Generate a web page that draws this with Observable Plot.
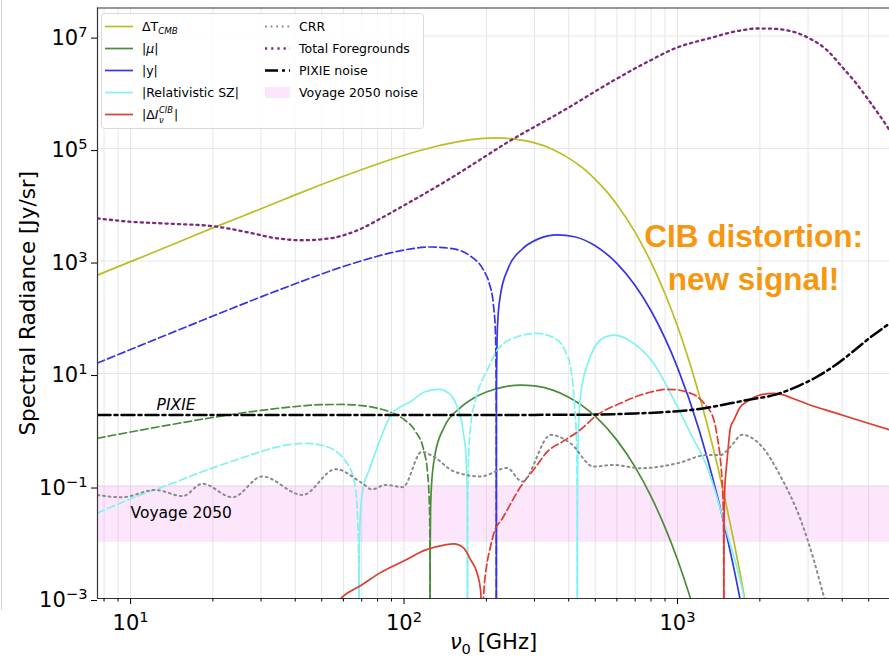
<!DOCTYPE html>
<html>
<head>
<meta charset="utf-8">
<script src="https://cdn.jsdelivr.net/npm/d3@7"></script>
<script src="https://cdn.jsdelivr.net/npm/@observablehq/plot@0.6"></script>
<style>
  html, body { margin: 0; padding: 0; background: #fff; }
  #wrap { position: relative; width: 889px; height: 658px; overflow: hidden; }
  #edge { position: absolute; left: 1px; top: 0; width: 1px; height: 610px; background: #d6d6d6; }
</style>
</head>
<body>
<div id="wrap"><div id="edge"></div></div>
<script>
// Spectra: each pair is [frequency in GHz, log10 of spectral radiance in Jy/sr].
// Dashed segments are where the signal is negative (absolute value shown).

const cmbT = [
  [7.57, 2.75], [10, 2.99], [15, 3.34], [20, 3.59], [30, 3.93], [40, 4.177], [60, 4.507],
  [80, 4.727], [100, 4.882], [130, 5.037], [160, 5.129], [190, 5.176], [217, 5.19],
  [250, 5.174], [280, 5.136], [350, 4.985], [400, 4.83], [450, 4.656], [500, 4.454],
  [550, 4.239], [600, 4.006], [700, 3.51], [800, 2.976], [850, 2.70], [900, 2.418],
  [1000, 1.84], [1100, 1.236], [1200, 0.62], [1300, -0.007], [1400, -0.64],
  [1500, -1.286], [1600, -1.94], [1700, -2.595], [1800, -3.27]
];

const muNeg = [
  [7.57, -0.15], [10, -0.039], [15, 0.116], [20, 0.219], [30, 0.345], [40, 0.413],
  [50, 0.446], [60, 0.45], [70, 0.43], [80, 0.383], [90, 0.306], [100, 0.183],
  [110, -0.026], [118, -0.364], [122, -0.781], [124, -1.48], [124.4, -2.3], [124.48, -3.5]
];
const muPos = [
  [124.48, -3.5], [124.56, -2.27], [125, -1.45], [126, -0.988], [130, -0.425], [140, 0.04],
  [160, 0.386], [180, 0.565], [200, 0.672], [230, 0.759], [267, 0.794], [300, 0.78],
  [350, 0.705], [400, 0.58], [500, 0.241], [600, -0.184], [700, -0.665], [800, -1.186],
  [900, -1.736], [1000, -2.311], [1100, -2.905], [1150, -3.21]
];

const yNeg = [
  [7.57, 1.186], [10, 1.427], [15, 1.776], [20, 2.022], [30, 2.363], [40, 2.596],
  [60, 2.903], [82, 3.10], [100, 3.197], [125, 3.25], [150, 3.22], [175, 3.087],
  [195, 2.844], [205, 2.598], [212, 2.243], [216, 1.69], [217.4, 0.5], [217.5, -3.5]
];
const yPos = [
  [217.5, -3.5], [217.6, 0.5], [219, 1.687], [220, 1.91], [225, 2.388], [240, 2.865],
  [270, 3.21], [310, 3.395], [363, 3.467], [420, 3.432], [500, 3.272], [600, 2.959],
  [700, 2.565], [800, 2.116], [1000, 1.105], [1200, -0.008], [1400, -1.19],
  [1600, -2.42], [1750, -3.37]
];

const rszNegLow = [
  [7.57, -1.48], [11.4, -1.12], [13.4, -1.0], [17.3, -0.79], [21.9, -0.61], [26.3, -0.48],
  [34.8, -0.30], [43.6, -0.24], [53, -0.31], [57, -0.40], [61, -0.55], [65.6, -0.89],
  [67.5, -1.48], [68.3, -2.4], [68.39, -3.4]
];
const rszPosLow = [
  [68.41, -3.4], [68.6, -2.1], [69.5, -1.36], [71, -1.02], [74.5, -0.72], [80, -0.3],
  [90, 0.275], [105.7, 0.5], [120, 0.68], [134, 0.72], [148, 0.62], [156.4, 0.41],
  [161.8, 0.175], [165.5, -0.12], [167.9, -0.36], [169.8, -0.9], [170.4, -1.5], [170.58, -3.4]
];
const rszNegMid = [
  [170.62, -3.4], [170.8, -1.5], [172, -0.6], [175, 0.055], [182.5, 0.53], [193, 0.885],
  [201.5, 1.062], [219, 1.417], [259, 1.654], [307, 1.714], [363, 1.6], [390, 1.38],
  [406, 1.12], [420, 0.45], [427, -0.2], [429.3, -0.9], [429.9, -1.9], [430, -3.4]
];
const rszPosHigh = [
  [430.02, -3.4], [430.2, -1.8], [431, -0.9], [433, -0.2], [438, 0.4], [450, 0.85],
  [468, 1.15], [523, 1.6], [585, 1.684], [692, 1.536], [818, 1.18], [970, 0.53],
  [1114, -0.06], [1282, -0.656], [1518, -1.84], [1746, -2.96], [1800, -3.3]
];

const cibPosLow = [
  [55, -3.15], [58.6, -3.0], [70, -2.76], [82, -2.54], [100, -2.33], [120, -2.135],
  [140, -2.05], [152, -2.03], [165, -2.1], [175, -2.31], [185, -2.55], [190.5, -2.85],
  [192.7, -3.5]
];
const cibNeg = [
  [193.3, -3.5], [196, -2.85], [200, -2.45], [207, -2.08], [213, -1.84], [230, -1.56],
  [267, -1.01], [300, -0.69], [334, -0.39], [380, -0.21], [441, 0.0], [508, 0.263],
  [617, 0.47], [733, 0.618], [850, 0.70], [916, 0.72], [1000, 0.71], [1100, 0.66],
  [1180, 0.59], [1250, 0.47], [1358, 0.174], [1400, -0.15], [1435, -0.53], [1455, -0.9],
  [1465, -1.18], [1472, -1.62], [1475, -2.22], [1475.8, -3.3]
];
const cibPosHigh = [
  [1476.2, -3.3], [1477, -2.3], [1480, -1.6], [1490, -1.0], [1500, -0.8], [1518, -0.53],
  [1563, 0.05], [1606, 0.17], [1698, 0.41], [1797, 0.5], [2010, 0.62], [2249, 0.648],
  [2400, 0.63], [2600, 0.57], [3000, 0.455], [3720, 0.31], [4500, 0.183], [5957, 0.0]
];

const crr = [
  [7.57, -1.16], [9.3, -1.20], [12.3, -1.07], [15.5, -1.18], [18.3, -0.96], [23.6, -1.20],
  [30.3, -0.83], [42.5, -1.16], [56.2, -0.70], [70.3, -0.95], [76.4, -1.06], [85.5, -0.98],
  [99, -1.02], [116, -0.39], [128.5, -0.48], [152, -0.74], [190, -0.83], [238, -0.68],
  [270, -0.92], [344, -0.09], [406, -0.24], [494, -0.655], [585, -0.625], [733, -0.684],
  [1000, -0.595], [1282, -0.45], [1435, -0.45], [1563, -0.30], [1722, -0.09],
  [2010, -0.27], [2382, -0.83], [2818, -1.6], [3148, -2.31], [3428, -2.96], [3550, -3.2]
];

const foregrounds = [
  [7.57, 3.76], [9.9, 3.70], [13, 3.67], [20, 3.62], [26.3, 3.52], [34.8, 3.40],
  [42.5, 3.37], [53, 3.40], [70, 3.58], [82, 3.757], [93, 3.904], [144, 4.437],
  [252, 5.178], [384, 5.68], [585, 6.213], [775, 6.54], [1000, 6.80], [1282, 6.95],
  [1698, 7.10], [1954, 7.135], [2249, 7.13], [2980, 6.98], [3500, 6.76], [4000, 6.45],
  [4500, 6.16], [5000, 5.86], [5500, 5.58], [5957, 5.33]
];

const pixieNoise = [
  [7.57, 0.262], [100, 0.262], [300, 0.265], [500, 0.27], [700, 0.29], [1000, 0.33],
  [1200, 0.37], [1560, 0.47], [1800, 0.53], [2300, 0.63], [2800, 0.79], [3200, 0.93],
  [3700, 1.12], [4250, 1.34], [5000, 1.62], [5957, 1.89]
];

const voyageNoise = [0.01, 0.1]; // Jy/sr band

// Axis ticks and labels
const xMajor = [10, 100, 1000];
const xTickLabels = ["10^1", "10^2", "10^3"];
const xMinor = [8, 9, 20, 30, 40, 50, 60, 70, 80, 90, 200, 300, 400, 500, 600, 700, 800, 900,
                2000, 3000, 4000, 5000];
const yMajor = [1e-3, 1e-1, 1e1, 1e3, 1e5, 1e7];
const yTickLabels = ["10^−3", "10^−1", "10^1", "10^3", "10^5", "10^7"];

const C = {
  cmb: "#bcbd22", mu: "#4b8b3b", y: "#3535e6", rsz: "#80f2f2", cib: "#e03c2f",
  crr: "#8a8a8a", fg: "#7b2a7b", pixie: "#000000", voyage: "#ee82ee", grid: "#e6e6e6"
};
const DASH = "7.5,3.5", DOT = "1.8,3.8", FGDOT = "2.2,4", DASHDOT = "13,4,3,4";

const xDomain = [7.57, 5957], yDomain = [1e-3, 3.16e7];

function spectrum(data, stroke, dash, width = 1.7) {
  return Plot.line(data, {
    x: d => d[0], y: d => 10 ** d[1], stroke, strokeWidth: width,
    strokeDasharray: dash, curve: "monotone-x", clip: true
  });
}

const chart = Plot.plot({
  width: 889, height: 658,
  marginLeft: 97, marginRight: 0, marginTop: 7.5, marginBottom: 60,
  style: { fontFamily: "DejaVu Sans", fontSize: "20px", color: "#000", background: "transparent" },
  x: { type: "log", domain: xDomain },
  y: { type: "log", domain: yDomain },
  marks: [
    Plot.ruleX([...xMinor, ...xMajor], { stroke: C.grid, strokeWidth: 1 }),
    Plot.ruleY(yMajor, { stroke: C.grid, strokeWidth: 1 }),
    Plot.rect([voyageNoise], { y1: d => d[0], y2: d => d[1], fill: C.voyage, fillOpacity: 0.2 }),

    spectrum(cmbT, C.cmb),
    spectrum(muNeg, C.mu, DASH), spectrum(muPos, C.mu),
    spectrum(yNeg, C.y, DASH), spectrum(yPos, C.y),
    spectrum(rszNegLow, C.rsz, DASH), spectrum(rszPosLow, C.rsz),
    spectrum(rszNegMid, C.rsz, DASH), spectrum(rszPosHigh, C.rsz),
    spectrum(cibPosLow, C.cib), spectrum(cibNeg, C.cib, DASH), spectrum(cibPosHigh, C.cib),
    spectrum(crr, C.crr, DOT, 2),
    spectrum(foregrounds, C.fg, FGDOT, 2.3),
    spectrum(pixieNoise, C.pixie, DASHDOT, 2.5),

    Plot.text([{ nu: 12.45, v: 2.25, t: "PIXIE" }], {
      x: "nu", y: "v", text: "t", textAnchor: "start", lineAnchor: "bottom",
      fontSize: 15.5, fontStyle: "italic"
    }),
    Plot.text([{ nu: 10, v: 0.0271, t: "Voyage 2050" }], {
      x: "nu", y: "v", text: "t", textAnchor: "start", lineAnchor: "bottom", fontSize: 15.5
    }),
    Plot.text([{ nu: 1897, v: 304, t: "CIB distortion:\nnew signal!" }], {
      x: "nu", y: "v", text: "t", lineAnchor: "bottom", lineHeight: 1.365,
      fontSize: 31.5, fontWeight: "bold", fontFamily: "Liberation Sans", fill: "#f7960f"
    }),

    Plot.ruleX([xDomain[0]], { stroke: "#333", strokeWidth: 1.2 }),
    Plot.ruleY(yDomain, { stroke: "#333", strokeWidth: 1.2 }),

    Plot.axisY({
      ticks: yMajor, tickFormat: d => yTickLabels[yMajor.indexOf(d)],
      tickSize: 6, tickPadding: 4, fontSize: 21, label: null, dy: 2
    }),
    Plot.axisX({
      ticks: xMajor, tickFormat: d => xTickLabels[xMajor.indexOf(d)],
      tickSize: 6, tickPadding: 11, fontSize: 21, label: null
    }),
    Plot.axisX({ ticks: xMinor, tickFormat: () => "", tickSize: 3.5, label: null }),

    Plot.text(["Spectral Radiance [Jy/sr]"], {
      text: d => d, frameAnchor: "left", dx: -69, rotate: -90, fontSize: 21.5,
      textAnchor: "middle", lineAnchor: "middle"
    }),
    Plot.text(["ν0 [GHz]"], {
      text: d => d, frameAnchor: "bottom", dy: 44, fontSize: 21,
      textAnchor: "middle", lineAnchor: "middle"
    })
  ]
});

document.getElementById("wrap").appendChild(chart);

const svg = d3.select(chart);

// Power-of-ten tick labels with raised exponents
svg.selectAll("text").each(function () {
  const m = /^10\^(.+)$/.exec(this.textContent);
  if (m) {
    const s = d3.select(this);
    s.text("10");
    s.append("tspan").attr("dy", "-0.55em").attr("font-size", "0.7em").text(m[1]);
  } else if (this.textContent === "ν0 [GHz]") {
    const s = d3.select(this);
    s.text(null);
    s.append("tspan").attr("font-style", "italic").text("ν");
    s.append("tspan").attr("font-size", "0.7em").attr("dy", "0.3em").text("0");
    s.append("tspan").attr("dy", "-0.21em").text(" [GHz]");
  }
});

// Legend
const lg = svg.append("g").attr("font-family", "DejaVu Sans").attr("font-size", 12.5)
  .attr("fill", "#000").attr("text-anchor", "start");
lg.append("rect").attr("x", 101.5).attr("y", 13.5).attr("width", 322).attr("height", 115)
  .attr("rx", 3).attr("fill", "#fff").attr("fill-opacity", 0.85).attr("stroke", "#d9d9d9");

const rowY = i => 26.5 + 22 * i;
function sample(x0, x1, i, stroke, dash, width) {
  lg.append("line").attr("x1", x0).attr("x2", x1).attr("y1", rowY(i)).attr("y2", rowY(i))
    .attr("stroke", stroke).attr("stroke-width", width).attr("stroke-dasharray", dash || null);
}
function label(x, i) {
  return lg.append("text").attr("x", x).attr("y", rowY(i) + 4.4).attr("text-anchor", "start");
}

sample(105, 133, 0, C.cmb, null, 1.7);
let t = label(142, 0);
t.append("tspan").text("ΔT");
t.append("tspan").attr("font-style", "italic").attr("font-size", "0.7em").attr("dy", "0.3em").text("CMB");

sample(105, 133, 1, C.mu, null, 1.7);
t = label(142, 1);
t.append("tspan").text("|");
t.append("tspan").attr("font-style", "italic").text("μ");
t.append("tspan").text("|");

sample(105, 133, 2, C.y, null, 1.7);
label(142, 2).text("|y|");

sample(105, 133, 3, C.rsz, null, 1.7);
label(142, 3).text("|Relativistic SZ|");

// |ΔI| with the stacked ν subscript and CIB superscript
sample(105, 133, 4, C.cib, null, 1.7);
t = label(142, 4);
t.append("tspan").text("|Δ");
t.append("tspan").attr("font-style", "italic").text("I");
const xs = 142 + t.node().getComputedTextLength() + 0.5;
const sup = lg.append("text").attr("x", xs).attr("y", rowY(4) - 1.8).attr("font-size", 8.3)
  .attr("text-anchor", "start").attr("font-style", "italic").text("CIB");
lg.append("text").attr("x", xs).attr("y", rowY(4) + 8.2).attr("font-size", 8.3)
  .attr("text-anchor", "start").attr("font-style", "italic").text("ν");
lg.append("text").attr("x", xs + sup.node().getComputedTextLength() + 1).attr("y", rowY(4) + 4.4)
  .attr("text-anchor", "start").text("|");

sample(265, 290, 0, C.crr, DOT, 2);
label(299, 0).text("CRR");
sample(265, 290, 1, C.fg, FGDOT, 2.3);
label(299, 1).text("Total Foregrounds");
sample(265, 290, 2, C.pixie, DASHDOT, 2.5);
label(299, 2).text("PIXIE noise");
lg.append("rect").attr("x", 265).attr("y", rowY(3) - 5.5).attr("width", 25).attr("height", 11)
  .attr("fill", C.voyage).attr("fill-opacity", 0.2);
label(299, 3).text("Voyage 2050 noise");
</script>
</body>
</html>
